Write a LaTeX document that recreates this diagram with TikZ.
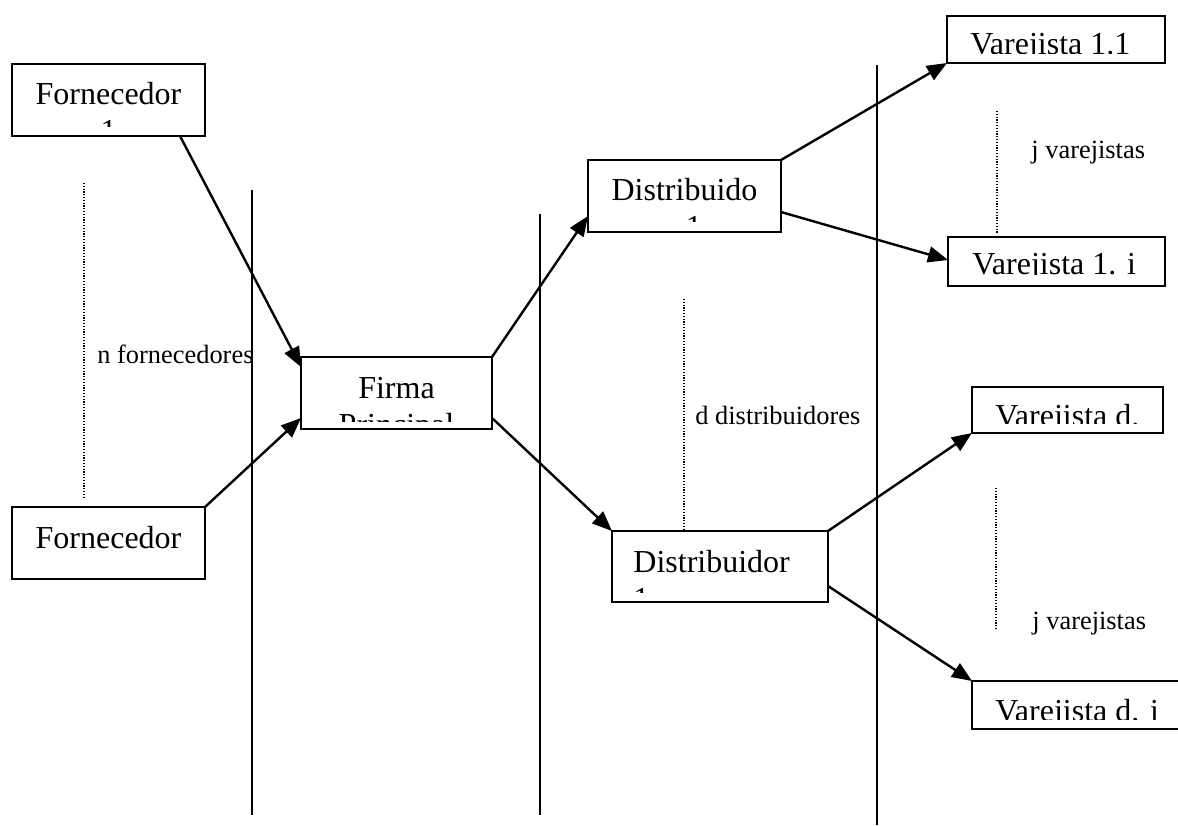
\documentclass[tikz,border=0pt]{standalone}
\usepackage{fontspec}
\setmainfont{Liberation Serif}
\usetikzlibrary{arrows.meta}

\begin{document}
\begin{tikzpicture}[x=0.5pt,y=-0.5pt,
	caixa/.style={draw, line width=1pt, inner sep=0pt, outer sep=0pt},
	rotulo/.style={inner sep=0pt, font=\fontsize{16}{18.5}\selectfont, align=center, anchor=base},
	legenda/.style={inner sep=0pt, font=\fontsize{13.2}{15}\selectfont, anchor=base west},
	seta/.style={-{Triangle[length=10pt,width=8pt]}, line width=1.2pt},
	divisa/.style={line width=1pt},
	reticencia/.style={line width=0.6pt, dash pattern=on 0.6pt off 0.8pt}]

		\useasboundingbox (0,0) rectangle (1178,825);

		% divisas entre os niveis
		\draw[divisa] (252,190) -- (252,815);
		\draw[divisa] (540,214) -- (540,815);
		\draw[divisa] (877,65) -- (877,825);

		% caixas
		\node[caixa, minimum width=96.5pt, minimum height=36pt] (forn1) at (108.5,100) {};
		\node[caixa, minimum width=96.5pt, minimum height=36pt] (fornN) at (108.5,543) {};
		\node[caixa, minimum width=95.5pt, minimum height=36pt] (firma) at (396.5,393) {};
		\node[caixa, minimum width=96.5pt, minimum height=36pt] (distA) at (684.5,196) {};
		\node[caixa, minimum width=108pt, minimum height=35.5pt] (distB) at (720,566.5) {};
		\node[caixa, minimum width=109pt, minimum height=23.5pt] (var11) at (1056,39.5) {};
		\node[caixa, minimum width=108.5pt, minimum height=24.5pt] (var1i) at (1056.5,261.5) {};
		\node[caixa, minimum width=95.5pt, minimum height=23pt] (vard) at (1067.5,410) {};
		\node[caixa, minimum width=109pt, minimum height=24pt] (vardi) at (1081,705) {};

		% textos cortados pela caixa (base = ultima linha)
		\begin{scope}
			\clip (forn1.north west) rectangle ([yshift=5pt]forn1.south east);
			\node[rotulo] (forn1-t) at ([yshift=-38.5pt]forn1.north) {Fornecedor\\1};
		\end{scope}
		\begin{scope}
			\clip (fornN.north west) rectangle ([yshift=5pt]fornN.south east);
			\node[rotulo] (fornN-t) at ([yshift=-39pt]fornN.north) {Fornecedor\\n};
		\end{scope}
		\begin{scope}
			\clip (firma.north west) rectangle ([yshift=4pt]firma.south east);
			\node[rotulo] (firma-t) at ([yshift=-39pt]firma.north) {Firma\\Principal};
		\end{scope}
		\begin{scope}
			\clip (distA.north west) rectangle ([yshift=5.5pt]distA.south east);
			\node[rotulo] (distA-t) at ([yshift=-38.5pt]distA.north) {Distribuido\\r 1};
		\end{scope}
		\begin{scope}
			\clip (distB.north west) rectangle ([yshift=5pt]distB.south east);
			\node[rotulo, align=left, anchor=base west] (distB-t) at ([xshift=10.5pt,yshift=-39pt]distB.north west) {Distribuidor\\1};
		\end{scope}
		\begin{scope}
			\clip (var11.north west) rectangle ([yshift=5pt]var11.south east);
			\node[rotulo, anchor=base west] (var11-t) at ([xshift=11.5pt,yshift=-19pt]var11.north west) {Varejista 1.1};
		\end{scope}
		\begin{scope}
			\clip (var1i.north west) rectangle ([yshift=6pt]var1i.south east);
			\node[rotulo, anchor=base west] (var1i-t) at ([xshift=12pt,yshift=-18.5pt]var1i.north west) {Varejista 1. i};
		\end{scope}
		\begin{scope}
			\clip (vard.north west) rectangle ([yshift=5pt]vard.south east);
			\node[rotulo, anchor=base west] (vard-t) at ([xshift=11.5pt,yshift=-19.5pt]vard.north west) {Varejista d.};
		\end{scope}
		\begin{scope}
			\clip (vardi.north west) rectangle ([yshift=5pt]vardi.south east);
			\node[rotulo, anchor=base west] (vardi-t) at ([xshift=11.5pt,yshift=-20pt]vardi.north west) {Varejista d. i};
		\end{scope}

		% setas
		\draw[seta] ([xshift=-12.5pt]forn1.south east) -- ([yshift=-5pt]firma.north west);
		\draw[seta] (fornN.north east) -- ([yshift=5.5pt]firma.south west);
		\draw[seta] (firma.north east) -- ([yshift=8pt]distA.south west);
		\draw[seta] ([yshift=5.5pt]firma.south east) -- (distB.north west);
		\draw[seta] (distA.north east) -- (var11.south west);
		\draw[seta] ([yshift=10pt]distA.south east) -- ([yshift=-11.5pt]var1i.north west);
		\draw[seta] (distB.north east) -- (vard.south west);
		\draw[seta] ([yshift=8pt]distB.south east) -- (vardi.north west);

		% reticencias e legendas
		\draw[reticencia] (84,183) -- (84,497);
		\draw[reticencia] (684,299) -- (684,531);
		\draw[reticencia] (997,111) -- (997,233);
		\draw[reticencia] (996,488) -- (996,630);

		\node[legenda] (nforn) at (97,363) {n fornecedores};
		\node[legenda] (ddist) at (695,424) {d distribuidores};
		\node[legenda] (jvar1) at (1031,158) {j varejistas};
		\node[legenda] (jvard) at (1032,629) {j varejistas};
\end{tikzpicture}
\end{document}
